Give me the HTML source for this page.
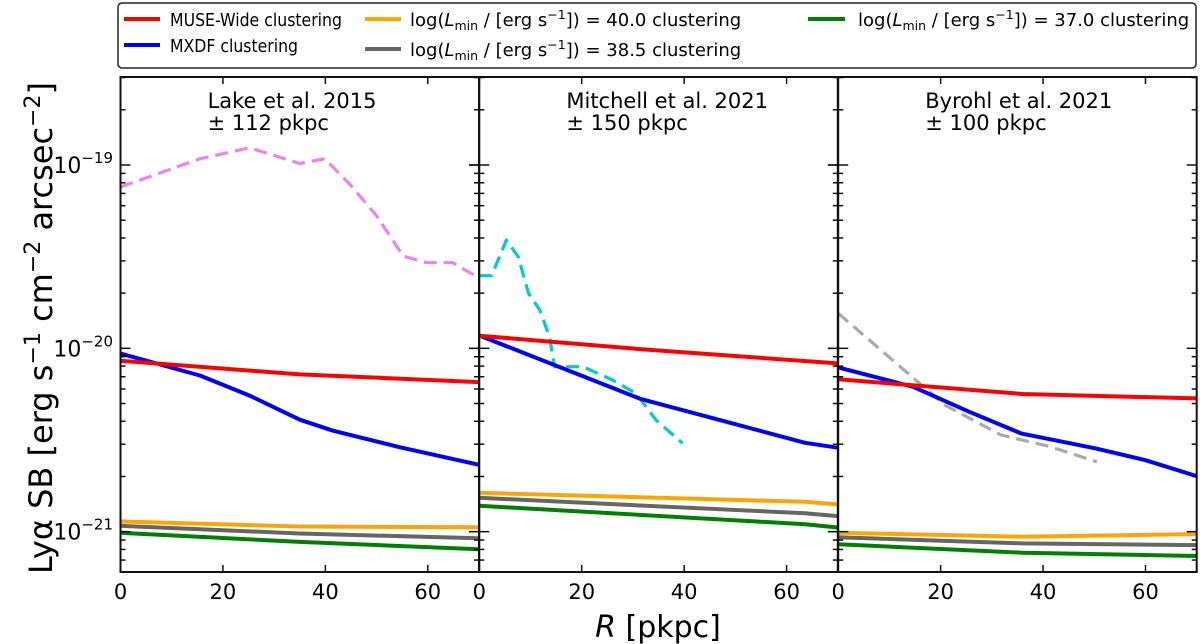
<!DOCTYPE html>
<html><head><meta charset="utf-8"><style>
body{margin:0;background:#fff;}
svg{display:block;font-family:"DejaVu Sans","Liberation Sans",sans-serif;}
</style></head><body>
<svg id="c" width="1200" height="644" viewBox="0 0 1200 644">
<g>
<rect x="118" y="3" width="1078" height="65" rx="4" fill="#fff" stroke="#222" stroke-width="1.5"/>
<g><line x1="124" y1="19" x2="160" y2="19" stroke="#ff0000" stroke-width="4"/><text x="170" y="26" font-size="18" textLength="172" lengthAdjust="spacingAndGlyphs">MUSE-Wide clustering</text></g>
<g><line x1="124" y1="45" x2="160" y2="45" stroke="#0000ff" stroke-width="4"/><text x="170" y="52" font-size="18" textLength="128" lengthAdjust="spacingAndGlyphs">MXDF clustering</text></g>
<g><line x1="365" y1="19" x2="401" y2="19" stroke="#ffa500" stroke-width="4"/><text x="410" y="26" font-size="18">log(<tspan font-style="italic">L</tspan><tspan font-size="12.5" dy="4">min</tspan><tspan dy="-4"> / [erg s</tspan><tspan font-size="12.5" dy="-7">−1</tspan><tspan dy="7">]) = 40.0 clustering</tspan></text></g>
<g><line x1="365" y1="49" x2="401" y2="49" stroke="#666" stroke-width="4"/><text x="410" y="56" font-size="18">log(<tspan font-style="italic">L</tspan><tspan font-size="12.5" dy="4">min</tspan><tspan dy="-4"> / [erg s</tspan><tspan font-size="12.5" dy="-7">−1</tspan><tspan dy="7">]) = 38.5 clustering</tspan></text></g>
<g><line x1="808" y1="19" x2="845" y2="19" stroke="#008000" stroke-width="4"/><text x="858" y="26" font-size="18">log(<tspan font-style="italic">L</tspan><tspan font-size="12.5" dy="4">min</tspan><tspan dy="-4"> / [erg s</tspan><tspan font-size="12.5" dy="-7">−1</tspan><tspan dy="7">]) = 37.0 clustering</tspan></text></g>
</g>
<text transform="translate(52,328) rotate(-90)" text-anchor="middle" font-size="32">Lyα SB [erg s<tspan font-size="22" dy="-12">−1</tspan><tspan dy="12"> cm</tspan><tspan font-size="22" dy="-12">−2</tspan><tspan dy="12"> arcsec</tspan><tspan font-size="22" dy="-12">−2</tspan><tspan dy="12">]</tspan></text>
<text x="658" y="637" text-anchor="middle" font-size="30"><tspan font-style="italic">R</tspan> [pkpc]</text>
<g id="plots"></g>
</svg>
<script>
const xTicks = [0, 20, 40, 60];
const yDecades = [-19, -20, -21];
const panelTitles = ["Lake et al. 2015", "Mitchell et al. 2021", "Byrohl et al. 2021"];
const panelRanges = ["± 112 pkpc", "± 150 pkpc", "± 100 pkpc"];
// values are log10(SB)
const p1R_red = [0, 35, 70];            const p1_red = [-20.068, -20.142, -20.184];
const p1R_blue = [0, 15.5, 25.2, 35, 41.5, 54.5, 70]; const p1_blue = [-20.028, -20.148, -20.258, -20.389, -20.449, -20.539, -20.635];
const p1R_low = [0, 35, 70];
const p1_orange = [-20.944, -20.972, -20.976];
const p1_gray = [-20.968, -21.010, -21.036];
const p1_green = [-21.006, -21.056, -21.096];
const p1R_ref = [0, 15.5, 25.2, 35, 39.9, 44.8, 50, 55.2, 59.7, 64.9, 70];
const p1_ref = [-19.12, -18.966, -18.906, -18.992, -18.966, -19.106, -19.277, -19.497, -19.533, -19.533, -19.617];
const p2R_red = [0, 32, 70];            const p2_red = [-19.931, -20.006, -20.082];
const p2R_blue = [0, 31.6, 63.6, 70];   const p2_blue = [-19.93, -20.277, -20.515, -20.542];
const p2R_low = [0, 63.6, 70];
const p2_orange = [-20.788, -20.837, -20.851];
const p2_gray = [-20.815, -20.900, -20.915];
const p2_green = [-20.859, -20.959, -20.977];
const p2R_ref = [0, 2.4, 5.3, 7.6, 9.6, 11.8, 13.7, 14.7, 20.2, 26, 30.6, 34.5, 39.7];
const p2_ref = [-19.604, -19.604, -19.409, -19.5, -19.70, -19.79, -19.937, -20.10, -20.10, -20.173, -20.246, -20.391, -20.518];
const p3R_red = [0, 36, 70];            const p3_red = [-20.169, -20.249, -20.273];
const p3R_blue = [0, 14.6, 25.6, 35.7, 50.3, 60, 70]; const p3_blue = [-20.104, -20.21, -20.346, -20.464, -20.546, -20.61, -20.697];
const p3R_low = [0, 36, 70];
const p3_orange = [-21.006, -21.028, -21.013];
const p3_gray = [-21.031, -21.064, -21.073];
const p3_green = [-21.069, -21.115, -21.133];
const p3R_ref = [0, 20.8, 31.8, 41.5, 50.5];
const p3_ref = [-19.809, -20.309, -20.473, -20.537, -20.619];

const panels = [
 {x0:120.5, R:[p1R_red,p1R_blue,p1R_low,p1R_ref], d:[p1_red,p1_blue,p1_orange,p1_gray,p1_green,p1_ref], refColor:"#ee82ee"},
 {x0:479.3, R:[p2R_red,p2R_blue,p2R_low,p2R_ref], d:[p2_red,p2_blue,p2_orange,p2_gray,p2_green,p2_ref], refColor:"#00cccc"},
 {x0:838.2, R:[p3R_red,p3R_blue,p3R_low,p3R_ref], d:[p3_red,p3_blue,p3_orange,p3_gray,p3_green,p3_ref], refColor:"#aaaaaa"}
];
const W = 358.5, TOP = 77, BOT = 572, LTOP = -18.52, LBOT = -21.22;
const NS = "http://www.w3.org/2000/svg";
const root = document.getElementById('plots');
function yS(v){ return TOP + (LTOP - v) / (LTOP - LBOT) * (BOT - TOP); }
function mk(tag, attrs, parent){ const e = document.createElementNS(NS, tag); for (const k in attrs) e.setAttribute(k, attrs[k]); parent.appendChild(e); return e; }
function line(p, xs, ys, color, w, dash, name){
  const xS = r => p.x0 + r / 70 * W;
  const pts = xs.map((r,i) => xS(r).toFixed(1) + "," + yS(ys[i]).toFixed(1)).join(" ");
  const el = mk('polyline', {points: pts, fill:'none', stroke: color, 'stroke-width': w, 'stroke-linejoin':'round'}, p.g);
  if (dash) el.setAttribute('stroke-dasharray', dash);
  
  
}
panels.forEach((p, i) => {
  p.g = mk('g', {}, root);
  
  
  const xS = r => p.x0 + r / 70 * W;
  line(p, p.R[3], p.d[5], p.refColor, 3.2, "13,7", 'reference-profile-dashed');
  line(p, p.R[2], p.d[4], '#008000', 4, null, 'lmin-37-line');
  line(p, p.R[2], p.d[3], '#666666', 4, null, 'lmin-38.5-line');
  line(p, p.R[2], p.d[2], '#ffa500', 4, null, 'lmin-40-line');
  line(p, p.R[1], p.d[1], '#0000ff', 4, null, 'mxdf-line');
  line(p, p.R[0], p.d[0], '#ff0000', 4, null, 'muse-wide-line');
  const fr = mk('rect', {x:p.x0, y:TOP, width:W, height:BOT-TOP, fill:'none', stroke:'#111', 'stroke-width':2}, p.g);
  
  
  xTicks.forEach(t => {
    const x = xS(t);
    mk('line', {x1:x, x2:x, y1:BOT, y2:BOT-7, stroke:'#111', 'stroke-width':1.5}, p.g);
    mk('line', {x1:x, x2:x, y1:TOP, y2:TOP+7, stroke:'#111', 'stroke-width':1.5}, p.g);
    const tl = mk('text', {x:x, y:599, 'text-anchor':'middle', 'font-size':21}, p.g);
    tl.textContent = String(t);
    
    
  });
  for (let d = -22; d <= -19; d++) {
    for (let m = 1; m <= 9; m++) {
      const v = d + Math.log10(m);
      if (v > LTOP || v < LBOT) continue;
      const y = yS(v); const len = m === 1 ? 10 : 5;
      mk('line', {x1:p.x0, x2:p.x0+len, y1:y, y2:y, stroke:'#111', 'stroke-width':1.5}, p.g);
      mk('line', {x1:p.x0+W, x2:p.x0+W-len, y1:y, y2:y, stroke:'#111', 'stroke-width':1.5}, p.g);
      if (m === 1 && p.x0 > 130) mk('line', {x1:p.x0, x2:p.x0-len, y1:y, y2:y, stroke:'#111', 'stroke-width':1.5}, p.g);
    }
  }
  const t1 = mk('text', {x:xS(17), y:108, 'font-size':21}, p.g);
  t1.textContent = panelTitles[i];
  
  
  const t2 = mk('text', {x:xS(17), y:130, 'font-size':21}, p.g);
  t2.textContent = panelRanges[i];
  
  
});
yDecades.forEach(d => {
  const y = yS(d);
  const t = mk('text', {x:113, y:y+8, 'text-anchor':'end', 'font-size':22}, root);
  
  
  const a = mk('tspan', {}, t); a.textContent = '10';
  const b = mk('tspan', {'font-size':15, dy:-10}, t); b.textContent = '−' + (-d);
});
</script>
</body></html>
